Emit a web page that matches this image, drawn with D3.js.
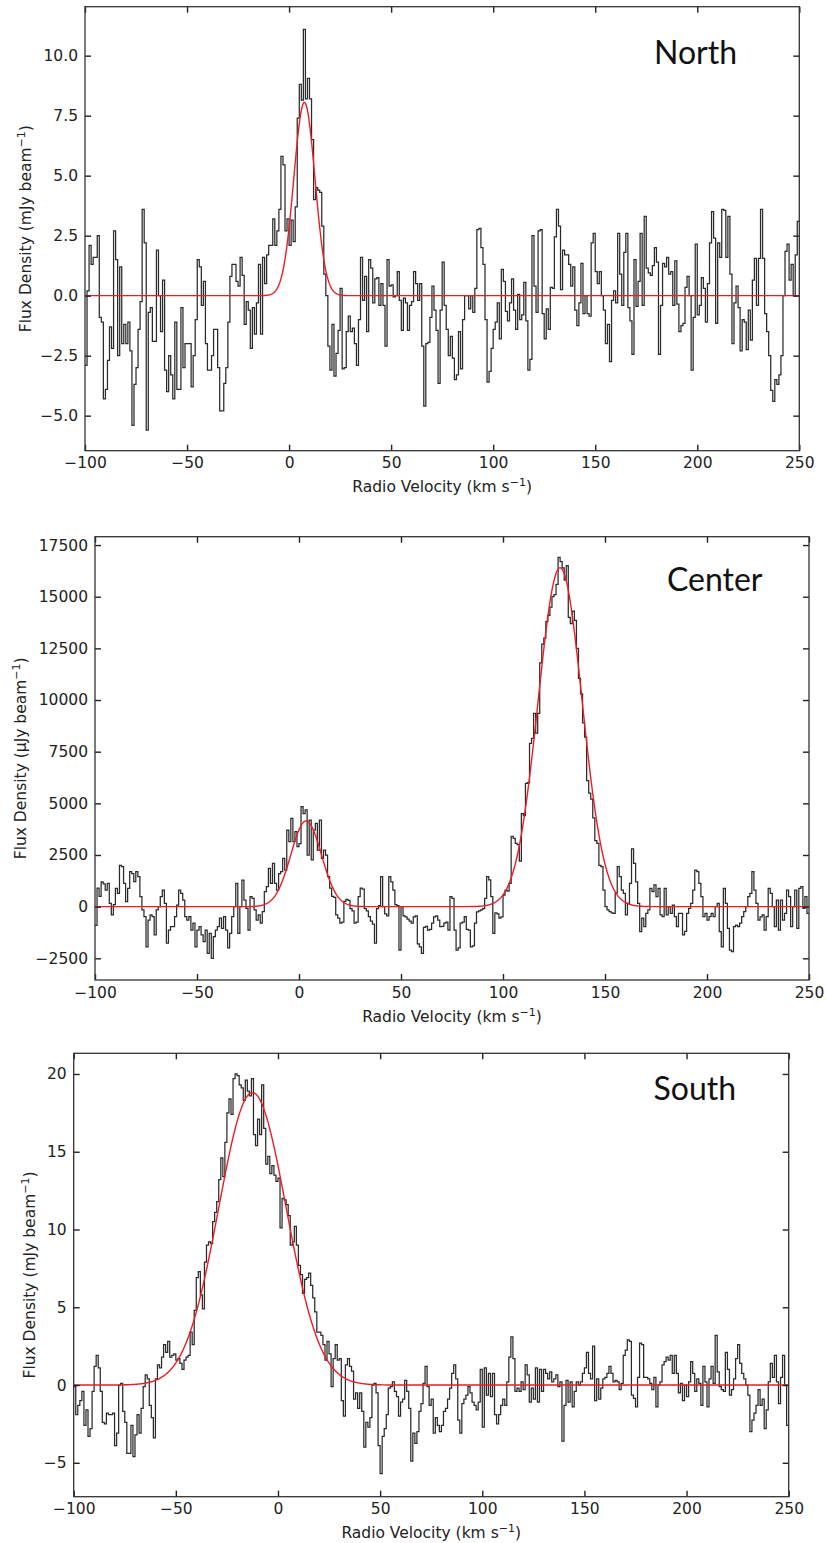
<!DOCTYPE html>
<html>
<head>
<meta charset="utf-8">
<script src="https://cdn.jsdelivr.net/npm/d3@7"></script>
<style>
  body { margin: 0; background: #fff; }
  svg { display: block; }
  text { font-family: "DejaVu Sans", sans-serif; }
</style>
</head>
<body>
<svg id="chart" width="826" height="1543"></svg>
<script>
// ---------------- DATA ----------------
// channels start at -100 km/s, 1 km/s wide
const velocityStart = -100;
const channelWidth = 1;

// North (mJy/beam)
const northFlux = [
  -2.9, 0.2, 2.1, 1.3, 1.6, 1.6, 2.5, -0.9, -1.1, -4.3,
  -3.9, -2.7, -1.3, -2.2, 2.7, 1.5, -2.5, 1.2, -2.0, -1.2,
  -2.0, -1.1, -2.3, -5.4, -3.7, -3.0, -1.4, -0.25, 3.6, 2.2,
  -5.6, -0.7, -0.5, -1.9, -1.9, 1.9, 0.0, -1.5, 0.65, -3.1,
  -4.0, -2.5, -3.3, -4.3, -1.1, -3.9, -3.9, -0.5, -3.0, -2.0,
  -2.0, -2.0, -3.8, -2.5, -1.0, 1.5, 1.2, -0.4, 0.6, -2.0,
  -3.1, -3.1, -2.5, -1.4, -1.4, -3.0, -4.8, -4.8, -3.65, -3.0,
  -1.1, 0.8, 1.3, 1.3, 0.6, 0.4, 1.6, 0.85, -1.2, -0.25,
  -0.6, -2.2, -0.5, -1.6, -0.3, 1.3, -1.6, 1.6, 0.5, 1.7,
  2.1, 2.1, 3.2, 2.1, 2.7, 3.6, 5.8, 5.45, 2.7, 3.2,
  2.1, 3.15, 2.25, 3.7, 7.4, 8.8, 8.15, 11.1, 8.2, 9.05,
  8.2, 6.5, 4.0, 4.5, 4.4, 4.3, 2.9, 0.9, 0.0, -2.1,
  -3.1, -1.2, -3.35, -2.4, -1.45, 0.3, -3.05, -3.0, -1.5, -0.85,
  -1.5, -1.35, -2.0, -2.9, -1.0, 1.6, -0.2, 0.8, -1.5, 1.5,
  1.15, -0.3, 0.7, 0.75, -0.4, 0.5, -0.4, -2.1, 1.5, 0.4,
  0.45, -0.05, 0.0, 1.0, -0.2, -1.45, -0.1, -0.3, -1.45, -0.4,
  -0.25, 1.0, 0.5, -0.2, 0.5, -2.1, -4.6, -2.0, -1.95, -0.9,
  0.4, -0.6, -1.45, -3.65, -0.6, 1.4, -0.4, -1.4, -2.5, -1.7,
  -2.6, -3.5, -3.3, -1.5, -3.05, -1.0, 0.0, 0.0, -0.55, 0.0,
  -0.7, 0.3, 2.75, 2.8, 2.0, 1.3, -1.0, -3.6, -3.15, -2.2,
  -1.4, -1.1, -0.3, -1.8, 1.1, 0.6, -0.65, -1.05, -0.3, 0.7,
  -0.6, -1.4, 0.05, -1.0, -0.8, 0.55, -1.05, -3.1, -2.65, 2.5,
  0.4, -0.7, 2.7, 2.75, -0.75, -1.8, -0.55, -1.4, 0.35, 0.3,
  2.45, 3.6, 2.9, 0.25, 1.9, 1.7, 1.7, 1.3, 0.4, 1.2,
  -0.6, -1.25, -0.3, 1.35, -0.75, 0.0, -0.75, -0.85, 2.2, 2.6,
  1.0, 0.5, 1.0, 0.0, -0.6, -2.0, -1.2, -2.75, -0.2, 0.2,
  -0.3, 2.6, 0.9, -0.4, 1.8, 2.6, -0.5, -1.05, -2.45, 1.5,
  -0.45, 0.6, 2.6, -0.4, 3.3, 1.15, 0.95, 0.85, 1.25, 2.0,
  1.4, -2.45, -0.4, 1.35, 1.2, 1.6, 0.9, 1.0, -0.4, 1.45,
  -0.35, -1.5, -1.25, -1.15, 0.35, 0.8, 0.0, -3.1, -0.9, 2.15,
  -0.8, -0.4, 0.75, 0.3, -1.1, 0.5, 2.2, 3.5, 2.4, -1.15,
  2.2, 1.6, 3.6, 3.55, 1.6, 3.3, 0.9, -2.0, -0.3, 0.4,
  -0.5, -2.3, -1.0, -1.1, -2.25, -0.6, -1.85, 0.65, 1.55, -0.4,
  1.55, 3.6, 1.55, -0.75, -1.5, -2.5, -3.95, -4.4, -3.5, -3.7,
  -3.3, -2.5, 0.0, 1.85, 2.15, 0.65, 1.3, 0.0, 1.7, 3.1
];

// Center (uJy/beam)
const centerFlux = [
  -900, 900, 500, 1200, 1100, 800, 1130, 160, -400, 100,
  890, 645, 2000, 1940, 1130, 240, 890, 1700, 1600, 1210,
  1700, 1450, 480, -160, -480, -1940, -650, -400, -480, -1370,
  -160, 0, 480, 800, 160, -1770, -1130, -970, -970, -480,
  80, 800, 645, 320, -480, -650, -480, -1130, -800, -1940,
  -1130, -970, -1370, -1690, -1130, -2260, -1290, -2500, -1450, -1130,
  -970, -560, -1050, -480, -1130, -2000, -1290, -480, 0, 1130,
  -1290, 0, 1290, 320, -80, -1130, 480, 400, -160, -650,
  -400, -800, -240, 730, 970, 1850, 1130, 2100, 1130, 800,
  1600, 1690, 2340, 1770, 3700, 3150, 4270, 3150, 3630, 2900,
  3050, 4840, 4500, 4680, 2500, 4190, 2260, 3700, 4030, 2740,
  4190, 2340, 2740, 2500, 1450, 900, 500, 450, -400, -550,
  -800, -750, 250, 350, 300, -100, -200, -800, -750, 480,
  900, 850, -100, -200, -480, -700, -850, -1770, -100, 50,
  1450, 0, -350, -450, 1450, 1200, 800, 100, 50, -2100,
  0, -450, -500, -600, -700, -800, -500, -450, -1800, -1940,
  -2260, -1000, -950, -1130, -1100, -800, -500, -450, -650, -970,
  -950, -800, -750, -1130, 480, 400, -1130, -2100, -2000, -800,
  -750, -480, -1100, -1130, -1940, -1900, -800, -250, -200, -160,
  -100, 400, 1450, 1300, 480, -1290, -300, -350, -560, -500,
  560, 800, 750, 1130, 3400, 3300, 3060, 3000, 2200, 4500,
  4400, 5970, 6000, 7900, 8150, 9350, 8400, 9350, 11800, 12700,
  13000, 13800, 14100, 14500, 15000, 15100, 15600, 16900, 16700, 16400,
  15800, 16500, 14000, 13700, 14300, 13850, 12500, 11050, 10300, 8900,
  8200, 6100, 5500, 5200, 4300, 3200, 3060, 2000, 1940, 800,
  0, -160, -240, -300, -320, 650, 1940, 1450, 800, 645,
  -400, 160, 1130, 2800, 2100, 1200, 160, -1210, -560, -970,
  -320, -160, 890, 730, 1050, 480, 890, -400, -480, 890,
  -400, 0, -320, 80, -480, -970, -320, -320, -1370, -1200,
  -320, -80, 160, 800, 1770, 1690, 1130, 480, -480, -320,
  -650, -480, -320, -480, 0, 160, -1210, -1940, 890, 160,
  -1050, -2100, -2180, -970, -890, -970, -800, -480, -240, 0,
  480, 645, 1700, 800, 160, -650, -500, -400, -1130, -480,
  890, 645, 0, -970, 320, -1130, 320, -650, -320, 800,
  480, -970, 0, 800, -1050, 890, 970, -80, 480, -320
];

// South (mJy/beam)
const southFlux = [
  -0.1, -1.9, -1.3, -1.0, -0.4, -2.6, -1.6, -3.3, -2.8, -0.4,
  1.2, 1.9, 1.1, -0.4, -2.4, -2.5, -1.8, -1.9, -1.9, -1.8,
  -3.9, -3.1, 0.0, 0.1, -1.7, -2.4, -4.4, -4.4, -2.6, -4.6,
  -3.2, -1.9, -3.1, -1.5, -0.1, 0.65, 0.4, -1.3, -2.1, -3.4,
  0.4, 1.3, 1.1, 1.8, 2.6, 2.1, 2.8, 1.8, 1.9, 2.0,
  1.6, 1.7, 1.4, 1.0, 1.6, 1.8, 1.9, 3.4, 2.6, 4.8,
  6.9, 7.3, 5.8, 4.9, 7.9, 9.0, 9.2, 9.1, 10.5, 11.1,
  11.8, 13.2, 14.6, 13.4, 15.6, 17.5, 18.4, 17.4, 19.7, 20.0,
  19.9, 19.3, 19.1, 18.3, 19.6, 18.9, 18.6, 19.7, 16.1, 15.4,
  17.1, 16.1, 19.3, 16.5, 14.2, 14.7, 13.6, 14.1, 13.5, 13.1,
  13.3, 10.1, 12.0, 11.9, 11.6, 10.9, 9.0, 9.2, 10.2, 9.0,
  7.7, 7.1, 5.9, 6.8, 6.9, 7.2, 6.4, 5.6, 4.7, 3.4,
  3.4, 3.2, 2.6, 1.6, 2.8, 2.0, -0.1, 1.7, 2.6, 1.6,
  1.7, -1.0, -2.0, 1.3, 1.7, 1.2, 0.9, -0.9, -0.5, -1.5,
  -0.5, -1.7, -4.0, -2.4, -2.7, -2.1, 0.0, 0.1, -0.5, -3.9,
  -5.7, -3.3, -2.8, -1.9, -0.2, -0.1, 0.2, -0.4, -0.75, -2.0,
  -1.1, -0.9, 0.3, -0.4, -1.5, -4.9, -3.1, -3.75, -3.0, -1.7,
  -1.2, 0.1, 1.2, -0.1, -1.3, -0.9, -3.1, -2.1, -2.6, -3.0,
  -2.6, -1.7, -1.5, -0.9, -0.2, 0.75, 1.3, 0.4, -2.25, -3.1,
  -1.2, -0.9, -0.65, -0.1, -0.5, -1.1, -1.3, -1.6, -1.1, 1.0,
  -2.7, 1.1, -0.65, 0.75, -0.75, 0.75, -1.9, -2.5, -1.9, -1.3,
  -0.9, -1.3, 0.2, 1.8, 3.1, 1.7, -0.4, -0.2, -0.4, 0.2,
  -0.3, 1.3, 0.65, -1.1, -0.2, -0.9, 1.1, -1.1, 1.0, -0.4,
  1.0, 0.75, 0.4, 0.85, 0.2, 0.4, 0.65, -0.1, 0.2, -3.6,
  -1.3, 0.3, -1.1, 0.2, -1.4, -0.4, 0.2, 0.0, 0.2, 0.75,
  1.1, 2.1, 0.75, 0.4, 2.5, -1.0, 0.4, -0.9, -0.2, 0.4,
  0.5, 0.75, 1.2, 0.75, 0.2, 0.3, 0.2, -0.3, 0.1, 1.9,
  2.25, 2.9, 2.8, -0.65, -0.85, -1.4, 0.5, 2.7, 2.6, 0.5,
  0.5, 0.4, 0.1, -0.3, 0.5, -1.4, 0.0, 0.2, 1.3, 1.5,
  1.8, 1.6, 1.9, 0.75, 1.9, 0.75, -0.5, 0.1, -1.0, 0.0,
  -0.75, 0.2, 1.5, 0.75, -0.4, 0.4, 0.1, -1.3, 1.2, 0.2,
  -1.4, 0.4, 1.2, 0.1, 3.2, 0.85, -0.1, -0.3, -0.4, 2.1,
  1.0, -0.65, -0.3, 0.4, 1.7, 2.6, 1.4, 0.75, 0.4, 0.0,
  -0.65, -3.0, -2.25, -1.8, -1.3, -0.3, -1.3, -0.9, -2.8, -1.6,
  0.2, 1.4, 0.5, 1.9, 0.2, -1.2, 0.5, 1.9, 0.0, -2.6
];

// Gaussian fit components: [amplitude, centre (km/s), sigma (km/s)]
const northFit = [[8.05, 7.5, 5.2]];
const centerFit = [[4150, 3.5, 7.5], [16400, 128, 10.8]];
const southFit = [[18.8, -12.5, 16.5]];

const xTicks = [-100, -50, 0, 50, 100, 150, 200, 250];
const northYTicks = [-5, -2.5, 0, 2.5, 5, 7.5, 10];
const centerYTicks = [-2500, 0, 2500, 5000, 7500, 10000, 12500, 15000, 17500];
const southYTicks = [-5, 0, 5, 10, 15, 20];
const panelTitles = ["North", "Center", "South"];
const fluxUnits = ["mJy", "\u03bcJy", "mJy"];
const xLabelText = "Radio Velocity (km s";

// ---------------- LAYOUT ----------------
const layout = [
  { left: 85, right: 799.3, top: 6.7, bottom: 450.7, yDom: [-6.46, 12.04], fmt: ".1f", yLabX: 31, titleX: 654, titleY: 64 },
  { left: 95, right: 809, top: 536.7, bottom: 980, yDom: [-3549, 17904], fmt: "d", yLabX: 25.5, titleX: 667, titleY: 591 },
  { left: 73.7, right: 788.7, top: 1053.3, bottom: 1496.7, yDom: [-7.18, 21.33], fmt: "d", yLabX: 35, titleX: 653.5, titleY: 1100 }
];
const fluxes = [northFlux, centerFlux, southFlux];
const fits = [northFit, centerFit, southFit];
const yTickSets = [northYTicks, centerYTicks, southYTicks];

const svg = d3.select("#chart");
const FS = 15.5;
const INK = "#222";

function gaussSum(params, v) {
  return d3.sum(params, p => p[0] * Math.exp(-((v - p[1]) ** 2) / (2 * p[2] * p[2])));
}

layout.forEach((L, i) => {
  const x = d3.scaleLinear().domain([-100, 250]).range([L.left, L.right]);
  const y = d3.scaleLinear().domain(L.yDom).range([L.bottom, L.top]);
  const g = svg.append("g");

  const clipId = "clip" + i;
  svg.append("clipPath").attr("id", clipId)
    .append("rect").attr("x", L.left).attr("y", L.top)
    .attr("width", L.right - L.left).attr("height", L.bottom - L.top);

  // step spectrum
  const flux = fluxes[i];
  const pts = flux.map((f, k) => [velocityStart + k * channelWidth, f]);
  pts.push([velocityStart + flux.length * channelWidth, flux[flux.length - 1]]);
  const stepLine = d3.line().x(d => x(d[0])).y(d => y(d[1])).curve(d3.curveStepAfter);
  g.append("path").attr("d", stepLine(pts))
    .attr("clip-path", `url(#${clipId})`)
    .attr("fill", "none").attr("stroke", "#2a2a2a").attr("stroke-width", 1.25);

  // gaussian fit
  const vs = d3.range(-100, 250.001, 0.25);
  const fitLine = d3.line().x(v => x(v)).y(v => y(gaussSum(fits[i], v)));
  g.append("path").attr("d", fitLine(vs))
    .attr("clip-path", `url(#${clipId})`)
    .attr("fill", "none").attr("stroke", "#ec1c24").attr("stroke-width", 1.4);

  // axes (inward ticks on all sides)
  const fmt = d3.format(L.fmt);
  const ax = [
    g.append("g").attr("transform", `translate(0,${L.bottom})`)
      .call(d3.axisBottom(x).tickValues(xTicks).tickSizeInner(-6).tickSizeOuter(0).tickPadding(6.6).tickFormat(d3.format("d"))),
    g.append("g").attr("transform", `translate(0,${L.top})`)
      .call(d3.axisTop(x).tickValues(xTicks).tickSizeInner(-6).tickSizeOuter(0).tickFormat("")),
    g.append("g").attr("transform", `translate(${L.left},0)`)
      .call(d3.axisLeft(y).tickValues(yTickSets[i]).tickSizeInner(-6).tickSizeOuter(0).tickPadding(7).tickFormat(fmt)),
    g.append("g").attr("transform", `translate(${L.right},0)`)
      .call(d3.axisRight(y).tickValues(yTickSets[i]).tickSizeInner(-6).tickSizeOuter(0).tickFormat(""))
  ];
  ax.forEach(a => {
    a.select(".domain").remove();
    a.selectAll(".tick line").attr("stroke", INK).attr("stroke-width", 1.4);
    a.selectAll(".tick text").attr("fill", INK).style("font-size", FS + "px")
      .style("font-family", '"DejaVu Sans", sans-serif');
  });

  // frame
  g.append("rect").attr("x", L.left).attr("y", L.top)
    .attr("width", L.right - L.left).attr("height", L.bottom - L.top)
    .attr("fill", "none").attr("stroke", "#333").attr("stroke-width", 1.3);

  // x label
  const xl = g.append("text").attr("x", (L.left + L.right) / 2).attr("y", L.bottom + 41.5)
    .attr("text-anchor", "middle").attr("fill", INK).style("font-size", FS + "px");
  xl.append("tspan").text(xLabelText);
  xl.append("tspan").attr("dy", -6).style("font-size", "11px").text("\u22121");
  xl.append("tspan").attr("dy", 6).text(")");

  // y label
  const cy = (L.top + L.bottom) / 2;
  const yl = g.append("text").attr("transform", `translate(${L.yLabX},${cy}) rotate(-90)`)
    .attr("text-anchor", "middle").attr("fill", INK).style("font-size", FS + "px");
  yl.append("tspan").text(`Flux Density (${fluxUnits[i]} beam`);
  yl.append("tspan").attr("dy", -6).style("font-size", "11px").text("\u22121");
  yl.append("tspan").attr("dy", 6).text(")");

  // panel title
  g.append("text").attr("x", L.titleX).attr("y", L.titleY)
    .attr("fill", "#111").style("font-family", "Lato, 'Open Sans', sans-serif")
    .style("font-size", "32px").text(panelTitles[i]);
});
</script>
</body>
</html>
